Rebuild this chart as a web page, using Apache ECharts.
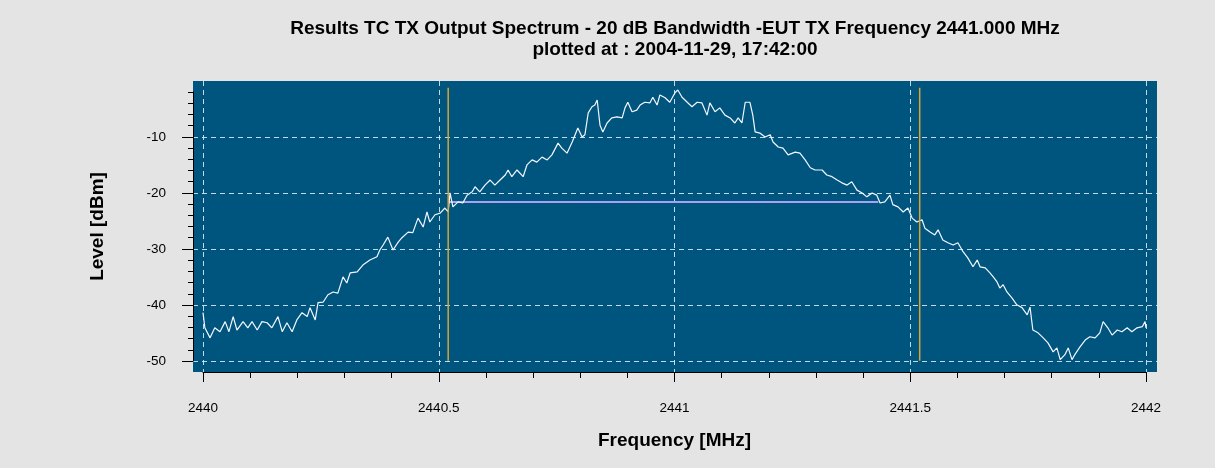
<!DOCTYPE html>
<html>
<head>
<meta charset="utf-8">
<script src="https://cdn.jsdelivr.net/npm/echarts@6/dist/echarts.min.js"></script>
<style>
  html, body { margin: 0; padding: 0; background: #e4e4e4; }
  #chart { width: 1215px; height: 468px; }
</style>
</head>
<body>
<div id="chart"></div>
<script>
// ---- Data ----
const titleLines = ['Results TC TX Output Spectrum - 20 dB Bandwidth -EUT TX Frequency 2441.000 MHz', 'plotted at : 2004-11-29, 17:42:00'];
const xAxisName = 'Frequency [MHz]';
const yAxisName = 'Level [dBm]';

const freqs = [
  2440.000, 2440.004, 2440.015, 2440.025, 2440.036, 2440.047, 2440.055, 2440.064, 2440.072, 2440.085,
  2440.095, 2440.104, 2440.115, 2440.125, 2440.136, 2440.146, 2440.159, 2440.168, 2440.178, 2440.189,
  2440.199, 2440.210, 2440.221, 2440.227, 2440.238, 2440.244, 2440.255, 2440.265, 2440.276, 2440.286,
  2440.297, 2440.305, 2440.312, 2440.327, 2440.339, 2440.354, 2440.369, 2440.375, 2440.382, 2440.392,
  2440.403, 2440.414, 2440.422, 2440.435, 2440.445, 2440.456, 2440.467, 2440.475, 2440.481, 2440.492,
  2440.503, 2440.513, 2440.520, 2440.524, 2440.530, 2440.541, 2440.551, 2440.560, 2440.571, 2440.577,
  2440.587, 2440.598, 2440.609, 2440.619, 2440.630, 2440.641, 2440.647, 2440.655, 2440.666, 2440.679,
  2440.687, 2440.698, 2440.708, 2440.719, 2440.730, 2440.740, 2440.753, 2440.761, 2440.772, 2440.783,
  2440.795, 2440.804, 2440.810, 2440.817, 2440.825, 2440.831, 2440.836, 2440.842, 2440.848, 2440.857,
  2440.867, 2440.878, 2440.889, 2440.895, 2440.901, 2440.910, 2440.920, 2440.927, 2440.937, 2440.948,
  2440.954, 2440.963, 2440.969, 2440.980, 2440.990, 2441.001, 2441.007, 2441.016, 2441.027, 2441.037,
  2441.048, 2441.058, 2441.069, 2441.075, 2441.086, 2441.096, 2441.107, 2441.118, 2441.128, 2441.135,
  2441.143, 2441.150, 2441.160, 2441.166, 2441.171, 2441.181, 2441.192, 2441.203, 2441.209, 2441.220,
  2441.230, 2441.241, 2441.256, 2441.266, 2441.277, 2441.288, 2441.298, 2441.313, 2441.323, 2441.334,
  2441.345, 2441.355, 2441.366, 2441.376, 2441.387, 2441.398, 2441.408, 2441.419, 2441.429, 2441.436,
  2441.446, 2441.457, 2441.463, 2441.474, 2441.485, 2441.495, 2441.504, 2441.514, 2441.525, 2441.531,
  2441.542, 2441.552, 2441.559, 2441.569, 2441.580, 2441.591, 2441.601, 2441.612, 2441.622, 2441.633,
  2441.642, 2441.648, 2441.659, 2441.669, 2441.676, 2441.684, 2441.690, 2441.697, 2441.705, 2441.716,
  2441.726, 2441.737, 2441.748, 2441.754, 2441.760, 2441.771, 2441.782, 2441.792, 2441.803, 2441.811,
  2441.818, 2441.828, 2441.835, 2441.843, 2441.849, 2441.860, 2441.871, 2441.881, 2441.892, 2441.902,
  2441.909, 2441.919, 2441.928, 2441.939, 2441.949, 2441.960, 2441.970, 2441.981, 2441.992, 2441.998,
  2442.000
];
const levels = [
  -41.4, -44.1, -45.9, -44.1, -44.8, -43.0, -44.8, -42.1, -44.5, -43.0,
  -44.1, -43.0, -44.5, -43.0, -43.2, -44.1, -42.1, -44.8, -43.2, -44.8,
  -42.7, -41.4, -42.1, -40.5, -42.7, -39.6, -39.5, -38.2, -37.7, -37.9,
  -35.0, -36.1, -34.3, -34.1, -32.9, -32.0, -31.4, -30.2, -29.3, -27.9,
  -30.2, -28.8, -28.0, -27.0, -27.1, -24.5, -26.1, -23.4, -25.2, -23.9,
  -23.6, -22.7, -23.4, -20.0, -22.5, -21.6, -21.8, -20.4, -19.8, -18.9,
  -19.8, -18.6, -17.7, -18.6, -17.7, -16.8, -15.9, -17.1, -15.9, -17.1,
  -15.0, -14.1, -14.5, -13.6, -14.1, -13.2, -11.1, -12.0, -12.9, -10.9,
  -8.4, -10.0, -9.6, -5.7, -4.6, -4.3, -3.4, -7.9, -9.1, -7.5,
  -6.6, -6.4, -6.6, -4.8, -3.8, -5.5, -5.2, -4.3, -3.8, -3.9,
  -2.9, -4.3, -2.5, -3.0, -3.8, -2.1, -1.6, -2.9, -3.8, -4.6,
  -3.8, -3.9, -6.1, -3.9, -5.5, -4.8, -6.1, -6.6, -7.5, -6.6,
  -7.5, -3.8, -3.8, -6.1, -9.1, -9.3, -10.0, -9.6, -10.9, -11.8,
  -12.0, -13.2, -12.7, -12.9, -14.1, -15.5, -15.9, -15.9, -16.8, -17.1,
  -17.7, -18.2, -18.6, -18.0, -19.5, -20.0, -20.7, -20.0, -20.4, -21.8,
  -21.6, -20.4, -22.1, -22.5, -23.4, -22.7, -24.5, -25.2, -24.8, -26.3,
  -27.0, -27.5, -26.6, -28.4, -28.9, -29.3, -28.9, -30.5, -31.6, -33.2,
  -32.0, -33.2, -33.4, -34.3, -35.0, -35.9, -37.0, -36.4, -37.7, -38.8,
  -40.0, -40.5, -41.8, -40.4, -44.5, -45.0, -45.9, -46.8, -48.4, -47.7,
  -49.8, -48.9, -47.7, -49.8, -48.9, -47.5, -46.3, -45.7, -45.9, -45.0,
  -43.0, -44.1, -45.4, -44.5, -44.8, -44.1, -44.8, -44.1, -43.9, -43.0,
  -44.1
];
// 20 dB bandwidth markers (vertical lines) and the -20 dB level line
const markerFreqs = [2440.520, 2441.520];
const markerLevels = [-50, -1.2];
const bwLineFreqs = [2440.520, 2441.432];
const bwLineLevel = -21.6;

// Axis ranges / ticks
const xTicks = { min: 2440, max: 2442, step: 0.5 };
const yMajor = { min: -50, max: -10, step: 10 };
const yMinor = { min: -50, max: -2, step: 2 };

// ---- Chart ----
const chart = echarts.init(document.getElementById('chart'), null, { renderer: 'canvas' });
const FONT = '"Liberation Sans", Arial, Helvetica, sans-serif';
const gridDash = { color: 'rgba(215,232,245,0.9)', width: 1, type: [5, 4] };
const black = { color: '#000', width: 1 };

const tracePairs = freqs.map((f, i) => [f, levels[i]]);

const option = {
  backgroundColor: '#e4e4e4',
  animation: false,
  textStyle: { fontFamily: FONT },
  title: {
    text: titleLines.join('\n'),
    left: 675,
    top: 18,
    padding: 0,
    textAlign: 'center',
    textStyle: { fontFamily: FONT, fontSize: 19, fontWeight: 'bold', color: '#000', lineHeight: 21 }
  },
  grid: [
    { left: 193, top: 81, width: 964, height: 291, show: true, backgroundColor: '#00557f', borderWidth: 0 },
    { left: 203, top: 81, width: 943, height: 291 },
    { left: 193, top: 137, width: 964, height: 224 },
    { left: 193, top: 92, width: 964, height: 269 }
  ],
  xAxis: [
    { gridIndex: 0, type: 'value', min: 2439.9788, max: 2442.0233, show: false },
    {
      gridIndex: 1, type: 'value', min: xTicks.min, max: xTicks.max, interval: xTicks.step,
      position: 'bottom', offset: 7,
      axisLine: { show: true, lineStyle: black },
      axisTick: { show: true, length: 10, lineStyle: black },
      minorTick: { show: true, splitNumber: 5, length: 6, lineStyle: black },
      splitLine: { show: true, lineStyle: gridDash },
      axisLabel: { show: true, margin: 22, fontSize: 13.5, color: '#000', fontFamily: FONT,
        formatter: v => String(Math.round(v * 10) / 10) },
      name: xAxisName, nameLocation: 'middle', nameGap: 52,
      nameTextStyle: { fontFamily: FONT, fontSize: 19, fontWeight: 'bold', color: '#000' }
    },
    { gridIndex: 2, type: 'value', min: 0, max: 1, show: false },
    { gridIndex: 3, type: 'value', min: 0, max: 1, show: false }
  ],
  yAxis: [
    { gridIndex: 0, type: 'value', min: -52, max: 0, show: false },
    { gridIndex: 1, type: 'value', min: 0, max: 1, show: false },
    {
      gridIndex: 2, type: 'value', min: yMajor.min, max: yMajor.max, interval: yMajor.step,
      position: 'left', offset: 9,
      axisLine: { show: false },
      axisTick: { show: true, length: 11, lineStyle: black },
      splitLine: { show: true, lineStyle: gridDash },
      axisLabel: { show: true, margin: 18, fontSize: 13.5, color: '#000', fontFamily: FONT }
    },
    {
      gridIndex: 3, type: 'value', min: yMinor.min, max: yMinor.max, interval: yMinor.step,
      position: 'left', offset: 9,
      axisLine: { show: true, lineStyle: black },
      axisTick: { show: true, length: 5, lineStyle: black },
      splitLine: { show: false },
      axisLabel: { show: false },
      name: yAxisName, nameLocation: 'middle', nameGap: 77, nameRotate: 90,
      nameTextStyle: { fontFamily: FONT, fontSize: 19, fontWeight: 'bold', color: '#000' }
    }
  ],
  series: [
    {
      name: 'bw', type: 'line', xAxisIndex: 0, yAxisIndex: 0, showSymbol: false, silent: true, z: 2,
      lineStyle: { color: '#a9a2f2', width: 2 },
      data: bwLineFreqs.map(f => [f, bwLineLevel])
    },
    {
      name: 'spectrum', type: 'line', xAxisIndex: 0, yAxisIndex: 0, showSymbol: false, silent: true, z: 3,
      lineStyle: { color: '#f2f8ff', width: 1.2 },
      data: tracePairs
    },
    ...markerFreqs.map((f, k) => ({
      name: 'marker' + k, type: 'line', xAxisIndex: 0, yAxisIndex: 0, showSymbol: false, silent: true, z: 4,
      lineStyle: { color: '#d6a532', width: 1.5 },
      data: markerLevels.map(v => [f, v])
    }))
  ]
};
chart.setOption(option);
</script>
</body>
</html>
